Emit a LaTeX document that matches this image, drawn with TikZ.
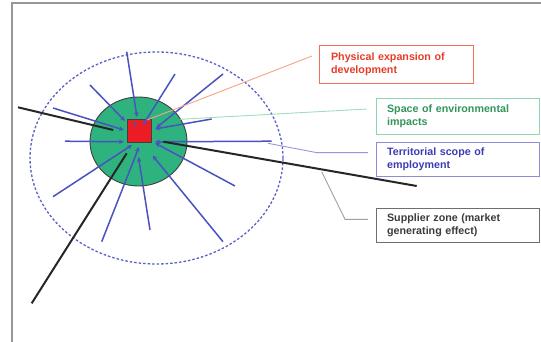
\documentclass[tikz,border=0pt]{standalone}
\usepackage{fontspec}
\setmainfont{Liberation Sans}
\usetikzlibrary{arrows.meta,shapes.geometric}
\definecolor{arrowblue}{RGB}{74,82,192}
\definecolor{dashblue}{RGB}{90,96,200}
\definecolor{discgreen}{RGB}{46,178,126}
\definecolor{sqred}{RGB}{236,28,36}
\definecolor{framegray}{RGB}{150,150,155}
\definecolor{physred}{RGB}{232,60,40}
\definecolor{physborder}{RGB}{240,110,90}
\definecolor{physlead}{RGB}{245,165,135}
\definecolor{envgreen}{RGB}{50,150,90}
\definecolor{envborder}{RGB}{140,215,175}
\definecolor{envlead}{RGB}{160,220,195}
\definecolor{terrblue}{RGB}{60,60,180}
\definecolor{terrborder}{RGB}{140,140,220}
\definecolor{terrlead}{RGB}{150,150,225}
\definecolor{suppgray}{RGB}{60,60,60}
\definecolor{suppborder}{RGB}{110,110,110}
\definecolor{supplead}{RGB}{160,160,160}
\tikzset{
  lbox/.style={rectangle, line width=0.8pt, anchor=north west, align=left,
    font=\bfseries\fontsize{10.7}{13}\selectfont, inner ysep=0pt},
  inarrow/.style={draw=arrowblue, line width=1.5pt, -{Stealth[length=5pt,width=4.5pt]}},
  road/.style={draw=black!85, line width=2pt},
  leader/.style={line width=0.9pt}
}
\begin{document}
\begin{tikzpicture}[x=1pt,y=-1pt]
\useasboundingbox (0,0) rectangle (541,342);
\fill[white] (0,0) rectangle (541,342);
% frame
\draw[framegray, line width=2pt] (12,342) -- (12,3.5) -- (541,3.5);

% outer dashed zone
\node[draw=dashblue, line width=1.3pt, dash pattern=on 2.5pt off 2pt, ellipse, minimum width=253pt, minimum height=212pt, inner sep=0pt] (zone) at (156.5,158) {};
% green disc
\node[draw=black!75, fill=discgreen, line width=0.9pt, ellipse, minimum width=97pt, minimum height=89pt, inner sep=0pt] (disc) at (138.5,141.5) {};

% blue arrows
\foreach \sx/\sy/\ex/\ey in {
  126.7/51.7/137/117,
  223/74/156/128,
  90/85/125/121,
  53/108/124/130,
  65/141.2/124/141.8,
  211.7/119/155/129,
  271.7/141.2/155/141.8,
  235/186/155/143,
  53/196.7/132/145,
  101.7/241.7/139/147,
  150/230/138.5/157,
  223/241.7/152.5/155.5}
  \draw[inarrow] (\sx,\sy) -- (\ex,\ey);

% roads
\draw[road] (18,107.3) -- (113.3,130);
\draw[road] (163.3,141.7) -- (416.7,186);
\draw[road] (126.7,153.3) -- (31.7,303.3);

% red square
\node[draw=black!75, fill=sqred, line width=0.9pt, minimum width=24pt, minimum height=23pt, inner sep=0pt] (sq) at (139,130.5) {};
\draw[inarrow] (175,74) -- (143,125);
\draw[arrowblue, line width=1pt, -{Stealth[length=4pt,width=4pt]}] (134,122) -- (136.5,126);

% label boxes
\node[lbox, draw=physborder, text=physred, text width=130.6pt, inner xsep=11.7pt, minimum height=37.7pt] (phys) at (319,45) {Physical expansion of\\development};
\node[lbox, draw=envborder, text=envgreen, text width=141.6pt, inner xsep=10.7pt, minimum height=36pt] (env) at (376,98) {Space of environmental\\impacts};
\node[lbox, draw=terrborder, text=terrblue, text width=141.6pt, inner xsep=10.7pt, minimum height=34pt] (terr) at (376,141.7) {Territorial scope of\\employment};
\node[lbox, draw=suppborder, text=suppgray, text width=141.6pt, inner xsep=10.7pt, minimum height=33.4pt] (supp) at (376,208.3) {Supplier zone (market\\generating effect)};

% leader lines
\coordinate (physa) at (312,56);
\coordinate (physb) at (147,120);
\draw[leader, physlead] (physa) -- (physb);
\coordinate (enva) at (367,109);
\coordinate (envb) at (180,119.3);
\draw[leader, envlead] (enva) -- (envb);
\coordinate (terra) at (368,152.7);
\coordinate (terrb) at (268,143.3);
\draw[leader, terrlead] (terra) -- (317,152.7) -- (terrb);
\coordinate (suppa) at (368,219.3);
\coordinate (suppb) at (321.7,171.7);
\draw[leader, supplead] (suppa) -- (345,219.3) -- (suppb);
\end{tikzpicture}
\end{document}
